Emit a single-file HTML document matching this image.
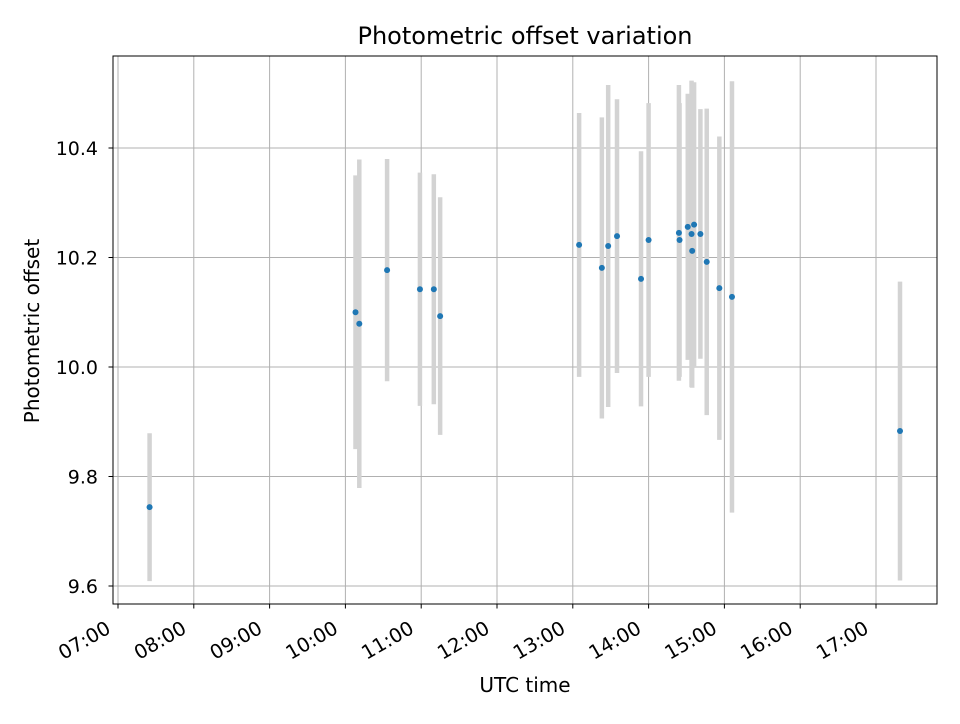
<!DOCTYPE html>
<html><head><meta charset="utf-8"><style>
body{margin:0;background:#fff;font-family:"DejaVu Sans","Liberation Sans",sans-serif;}
svg text{font-family:"DejaVu Sans","Liberation Sans",sans-serif;fill:#000;}
</style></head><body>
<svg id="chart" width="960" height="720" viewBox="0 0 960 720" xmlns="http://www.w3.org/2000/svg">
<rect x="0" y="0" width="960" height="720" fill="#fff"/>
<text x="525" y="44" font-size="24" text-anchor="middle">Photometric offset variation</text>
<g id="grid"></g>
<g id="errbars"></g>
<g id="points"></g>
<rect x="113" y="56" width="824" height="548" fill="none" stroke="#000" stroke-width="1"/>
<g id="xticks"></g>
<g id="yticks"></g>
<text x="525" y="692" font-size="20" text-anchor="middle">UTC time</text>
<text transform="translate(39,331) rotate(-90)" font-size="20" text-anchor="middle">Photometric offset</text>
</svg>
<script>
const times = ["07:25","10:08","10:11","10:33","10:59","11:10","11:15","13:05","13:23","13:28","13:35","13:54","14:00","14:24","14:24.5","14:31","14:34","14:34.5","14:36","14:41","14:46","14:56","15:06","17:19"];
const offsets = [9.744,10.100,10.079,10.177,10.142,10.142,10.093,10.223,10.181,10.221,10.239,10.161,10.232,10.245,10.232,10.256,10.243,10.212,10.260,10.243,10.192,10.144,10.128,9.883];
const errors = [0.135,0.25,0.30,0.203,0.213,0.21,0.217,0.241,0.275,0.294,0.25,0.233,0.25,0.27,0.25,0.243,0.28,0.25,0.26,0.228,0.28,0.277,0.394,0.273];
const xTickLabels = ["07:00","08:00","09:00","10:00","11:00","12:00","13:00","14:00","15:00","16:00","17:00"];
const yTickValues = [9.6,9.8,10.0,10.2,10.4];
const yTickLabels = ["9.6","9.8","10.0","10.2","10.4"];

const NS="http://www.w3.org/2000/svg";
function toH(s){const p=s.split(":");return +p[0]+(+p[1])/60;}
function xs(h){return 118+(h-7)*75.8;}
function ys(v){return 367-(v-10)*547.5;}
function mk(tag,attrs,parent){const e=document.createElementNS(NS,tag);for(const k in attrs)e.setAttribute(k,attrs[k]);parent.appendChild(e);return e;}
const grid=document.getElementById('grid'),xt=document.getElementById('xticks'),yt=document.getElementById('yticks');
xTickLabels.forEach(l=>{
  const x=xs(toH(l));
  const g=mk('line',{x1:x,x2:x,y1:56,y2:604,stroke:'#b0b0b0','stroke-width':1},grid);
  
  
  const t=mk('line',{x1:x,x2:x,y1:604,y2:608.5,stroke:'#000','stroke-width':1},xt);
  
  
  const tx=mk('text',{x:0,y:0,'font-size':19.5,'text-anchor':'end',transform:`translate(${x-6},${632}) rotate(-30)`},xt);
  tx.textContent=l;
  
  
});
yTickValues.forEach((v,i)=>{
  const y=ys(v);
  const g=mk('line',{x1:113,x2:937,y1:y,y2:y,stroke:'#b0b0b0','stroke-width':1},grid);
  
  
  const t=mk('line',{x1:108.5,x2:113,y1:y,y2:y,stroke:'#000','stroke-width':1},yt);
  
  
  const tx=mk('text',{x:98,y:y+7,'font-size':19,'text-anchor':'end'},yt);
  tx.textContent=yTickLabels[i];
  
  
});
const eb=document.getElementById('errbars'),pts=document.getElementById('points');
times.forEach((t,i)=>{
  const x=xs(toH(t));
  const l=mk('line',{x1:x,x2:x,y1:ys(offsets[i]+errors[i]),y2:ys(offsets[i]-errors[i]),stroke:'#d3d3d3','stroke-width':4.5},eb);
  
  
  const c=mk('circle',{cx:x,cy:ys(offsets[i]),r:3,fill:'#1f77b4'},pts);
  
  
});
</script>
</body></html>
